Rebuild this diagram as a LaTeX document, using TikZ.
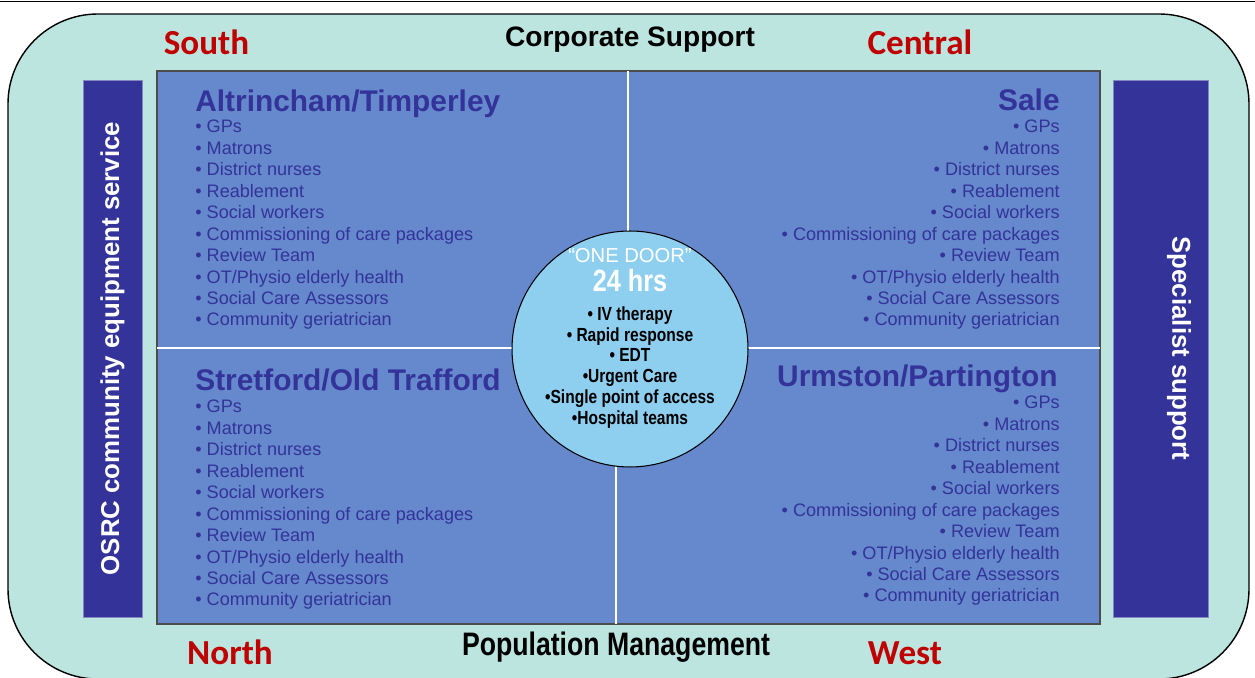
\documentclass[tikz,border=0pt]{standalone}
\usepackage{fontspec}
\setmainfont{Liberation Sans}
\newfontfamily\narrowfont[FakeStretch=0.82]{Liberation Sans}
\newfontfamily\calfont{Carlito}
\usetikzlibrary{positioning}

\definecolor{mintbg}{RGB}{188,229,224}
\definecolor{quadblue}{RGB}{102,136,204}
\definecolor{navy}{RGB}{51,51,153}
\definecolor{doorblue}{RGB}{142,207,240}
\definecolor{areared}{RGB}{192,0,0}

\newcommand{\teamlist}{%
  • GPs\\ • Matrons\\ • District nurses\\ • Reablement\\ • Social workers\\
  • Commissioning of care packages\\ • Review Team\\ • OT/Physio elderly health\\
  • Social Care Assessors\\ • Community geriatrician}

\begin{document}
\begin{tikzpicture}[x=0.02cm, y=-0.02cm,
  area/.style={text=areared, font=\calfont\bfseries\fontsize{20}{24}\selectfont, inner sep=0pt, anchor=base},
  band/.style={font=\bfseries\fontsize{16}{19}\selectfont, inner sep=0pt, anchor=base},
  sidebar/.style={fill=navy, draw=navy!60!white, line width=0.5pt},
  sidetext/.style={text=white, font=\bfseries\fontsize{14.7}{17}\selectfont, inner sep=0pt},
  locality/.style={text=navy, font=\bfseries\fontsize{17}{20}\selectfont, inner sep=0pt},
  services/.style={text=navy, font=\fontsize{10.3}{12.2}\selectfont, inner sep=0pt},
  divider/.style={white, line width=1.7pt}]
  \useasboundingbox (0,0) rectangle (1255,678);

  % page rule
  \draw[line width=0.7pt] (0,1.5) -- (1255,1.5);

  % outer frame
  \draw[fill=mintbg, line width=0.8pt, rounded corners=1.8cm] (8,14) rectangle (1249,679);

  % quadrants
  \draw[fill=quadblue, draw=black!70, line width=0.6pt] (157,71) rectangle (1100,624);
  \draw[divider] (628,71) -- (628,349);
  \draw[divider] (616,349) -- (616,624);
  \draw[divider] (157,348) -- (1100,348);

  % side bars
  \draw[sidebar] (83,80) rectangle (142,617);
  \node[sidetext, rotate=90] (osrc) at (112.5,348.5) {OSRC community equipment service};
  \draw[sidebar] (1113,80) rectangle (1208,617);
  \node[sidetext, rotate=-90] (specialist) at (1179,348.5) {Specialist support};

  % top and bottom bands
  \node[band] (corporate) at (630,47) {Corporate Support};
  \node[band, font=\narrowfont\bfseries\fontsize{18.5}{22}\selectfont] (population) at (616,656) {Population Management};
  \node[area] (south) at (206.5,55) {South};
  \node[area] (central) at (920,55) {Central};
  \node[area] (north) at (230,665) {North};
  \node[area] (west) at (905,665) {West};

  % localities
  \node[locality, anchor=base west] (altrincham) at (195,112) {Altrincham/Timperley};
  \node[services, align=left, anchor=north west] (altrinchamlist) at (195,120) {\teamlist};
  \node[locality, anchor=base east] (sale) at (1060,111) {Sale};
  \node[services, align=right, anchor=north east] (salelist) at (1060,120) {\teamlist};
  \node[locality, anchor=base west] (stretford) at (195,391) {Stretford/Old Trafford};
  \node[services, align=left, anchor=north west] (stretfordlist) at (195,400) {\teamlist};
  \node[locality, anchor=base east] (urmston) at (1058,387) {Urmston/Partington};
  \node[services, align=right, anchor=north east] (urmstonlist) at (1060,396) {\teamlist};

  % one door hub
  \node[circle, draw, fill=doorblue, line width=0.6pt, minimum size=4.72cm, inner sep=0pt] (door) at (630,349) {};
  \node[text=white, font=\fontsize{11.5}{13}\selectfont, inner sep=0pt, anchor=base] (onedoor) at (630,263) {“ONE DOOR”};
  \node[text=white, font=\narrowfont\bfseries\fontsize{17.5}{20}\selectfont, inner sep=0pt, anchor=base] (hours) at (630,292) {24 hrs};
  \node[font=\narrowfont\bfseries\fontsize{10.8}{11.9}\selectfont, align=center, inner sep=0pt, anchor=north] (doorlist) at (630,306)
    {• IV therapy\\ • Rapid response\\ • EDT\\ •Urgent Care\\ •Single point of access\\ •Hospital teams};
\end{tikzpicture}
\end{document}
